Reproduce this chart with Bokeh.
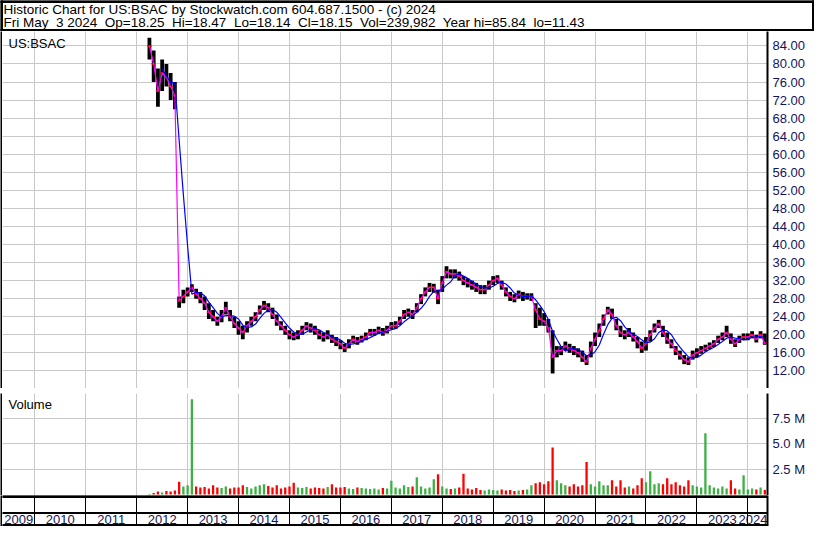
import pandas as pd
from bokeh.plotting import figure
from bokeh.layouts import column, row
from bokeh.models import (Range1d, FixedTicker, PrintfTickFormatter,
                          ColumnDataSource, Label)
from bokeh.core.properties import value
from bokeh.embed import file_html
from bokeh.resources import INLINE

FONT = "Liberation Sans"
NAVY = "#14145a"

# ---------------- texts ----------------
title_line = "Historic Chart for US:BSAC by Stockwatch.com 604.687.1500 - (c) 2024"
quote_line = "Fri May  3 2024  Op=18.25  Hi=18.47  Lo=18.14  Cl=18.15  Vol=239,982  Year hi=85.84  lo=11.43"
symbol = "US:BSAC"
volume_title = "Volume"

# ---------------- data (monthly, Apr 2012 .. May 2024) ----------------
start_year, start_month = 2012, 4

close = [
    84, 80, 74, 78, 77, 75, 73, 27.5, 28.5,                              # 2012
    29.5, 30.5, 29, 28, 27, 25, 24, 23, 24, 26, 24, 22.5,               # 2013
    21.5, 20.5, 22, 23, 24, 25.5, 26.5, 26, 24.5, 23, 22, 21,           # 2014
    20, 19.5, 20, 21, 22, 21.5, 21, 20, 19.5, 20, 19, 18.5,             # 2015
    18, 17, 18, 19, 18.5, 19, 19.5, 20.5, 20.5, 21, 20.5, 21,           # 2016
    22, 22, 23, 24.5, 25, 24.5, 26, 28, 29.5, 30.5, 30.5, 28,           # 2017
    31.5, 34, 33.5, 33.5, 33, 32, 31.5, 31, 30.5, 30, 30, 31,           # 2018
    32, 32.5, 31, 29.5, 28.5, 28, 29, 28.5, 28.5, 28.5, 25.5, 23.5,     # 2019
    23, 21.5, 15, 16.5, 16.5, 17.5, 17, 16.5, 16, 15, 14, 17,           # 2020
    19, 21, 23.5, 25.5, 24.5, 22, 20.5, 20, 20.5, 19.5, 18.5, 17,       # 2021
    18, 20, 21.5, 22.5, 20.5, 19, 18, 16.5, 15.5, 14.5, 14, 15.5,       # 2022
    16, 16.5, 17, 17.5, 18, 19, 19.5, 20.5, 19, 18, 19, 19.5,           # 2023
    19.5, 20, 19, 20, 18.15,                                             # 2024
]
high = [
    85.8, 83, 79, 81, 80, 78, 76, 28.5, 30,
    30.5, 31.2, 30.2, 29.5, 28.5, 27, 25.5, 24, 25.5, 27.3, 25.5, 24,
    23, 22, 23, 24, 25, 26.5, 27.5, 27, 26, 24.5, 23, 22,
    21, 20.5, 21, 22, 22.8, 22.5, 22, 21, 20.5, 21, 20, 19.5,
    18.8, 18, 19, 19.8, 19.5, 19.8, 20.5, 21.3, 21.3, 21.8, 21.5, 22,
    22.8, 23, 24, 25.5, 25.8, 25.5, 27, 29, 30.5, 31.5, 31.3, 30,
    33, 35.2, 34.5, 34.5, 34, 33, 32.5, 32, 31.5, 31, 31, 32,
    33, 33.2, 32, 30.5, 29.5, 29, 29.8, 29.5, 29.2, 29.2, 27, 26,
    24.8, 23.5, 21, 17.5, 17.5, 18.5, 18, 17.5, 17, 16.5, 15.5, 18.5,
    20.5, 22.5, 24.5, 26.2, 25.8, 23.5, 22, 21, 21.5, 20.5, 19.5, 18.5,
    19.5, 21, 22.5, 23.3, 22, 20.5, 19, 17.5, 16.5, 15.5, 15, 16.5,
    17, 17.5, 17.8, 18.3, 18.8, 19.8, 20.5, 22, 20.3, 19, 19.8, 20.3,
    20.3, 20.8, 20, 20.8, 20.3,
]
low = [
    81, 76, 70.5, 74, 75, 72, 70, 26, 27,
    28.5, 29.5, 28, 27, 25.5, 23.5, 23, 22, 22.8, 24.5, 23, 21.5,
    20, 19, 20.5, 22, 23, 24.5, 25.5, 25, 23.5, 22, 21, 20,
    19, 18.8, 19, 20, 21, 20.5, 20, 19, 18.5, 19, 18.2, 17.5,
    16.8, 16.2, 17, 18.2, 17.8, 18.3, 18.8, 19.8, 19.8, 20.2, 19.8, 20.3,
    21.2, 21.3, 22.2, 23.5, 24, 23.5, 25, 26.8, 28.5, 29.5, 29.3, 26.8,
    29.5, 32.5, 32.5, 32.5, 32, 31, 30.5, 30, 29.5, 29, 29, 30,
    31, 31.5, 30, 28.5, 27.5, 27.2, 28, 27.5, 27.8, 27.5, 21.5, 22,
    22, 20.5, 11.43, 15, 15.5, 16.5, 16, 15.5, 15, 14, 13.3, 15,
    17.5, 19.5, 22, 24.5, 23.5, 21, 19.5, 19, 19.5, 18.5, 17, 16,
    16.5, 18.5, 20.5, 21.5, 19.5, 18, 17, 15.5, 14.5, 13.5, 13.3, 14.5,
    15, 15.8, 16.3, 16.8, 17.3, 18.2, 18.8, 19.5, 18, 17.3, 18.2, 18.8,
    18.8, 19.2, 18.3, 19.2, 17.8,
]
volume_m = [
    0.05, 0.15, 0.3, 0.2, 0.35, 0.3, 0.4, 1.25, 0.8,
    0.9, 9.4, 0.8, 0.7, 0.75, 0.6, 0.9, 0.7, 0.65, 0.8, 0.6, 0.7,
    0.7, 0.9, 0.75, 0.6, 0.8, 0.9, 1.0, 0.85, 0.7, 0.9, 0.6, 0.7,
    0.8, 1.15, 0.7, 0.65, 0.75, 0.6, 0.7, 0.65, 0.6, 0.75, 1.0, 0.7,
    0.7, 0.75, 0.6, 0.55, 0.7, 0.65, 0.6, 0.55, 0.6, 0.5, 0.65, 0.6,
    1.35, 0.7, 0.6, 0.9, 0.75, 0.8, 1.7, 0.8, 0.6, 0.7, 1.5, 2.0,
    0.8, 0.6, 0.55, 0.6, 0.7, 2.05, 0.6, 0.5, 0.65, 0.45, 0.4, 0.5,
    0.45, 0.4, 0.5, 0.4, 0.45, 0.35, 0.4, 0.45, 0.5, 0.9, 1.1, 1.2,
    1.0, 1.3, 4.65, 1.4, 1.1, 0.9, 0.8, 1.0, 0.8, 0.9, 3.2, 1.0,
    0.8, 1.3, 0.9, 0.9, 1.4, 0.8, 1.4, 0.7, 0.8, 0.6, 0.9, 1.6,
    1.2, 2.3, 1.0, 1.1, 1.0, 1.6, 1.0, 1.2, 0.9, 0.8, 1.4, 0.9,
    0.8, 0.7, 6.05, 0.9, 0.7, 0.6, 0.8, 0.6, 1.4, 0.6, 0.5, 1.9,
    0.5, 0.6, 0.5, 0.7, 0.45,
]

year_labels = list(range(2009, 2025))
year_bounds = list(range(2010, 2025))
price_ticks = [12, 16, 20, 24, 28, 32, 36, 40, 44, 48, 52, 56, 60, 64, 68, 72, 76, 80, 84]
volume_ticks = [2.5, 5.0, 7.5]

X0, X1 = 2009.365, 2024.386
P_LO, P_HI = 8.1, 87.2
V_LO, V_HI = -0.1, 9.97

# ---------------- derived ----------------
x = [start_year + (start_month - 1 + i) / 12 for i in range(len(close))]
ma_long = pd.Series(close).rolling(4).mean().tolist()
vol_color = ["#3cb043" if i == 0 or close[i] >= close[i - 1] else "#ff0000"
             for i in range(len(close))]
src = ColumnDataSource(dict(x=x, close=close, high=high, low=low, ma=ma_long,
                            vol=volume_m, vcol=vol_color))

W = 814
FW = 765          # frame width of the three chart panels
RB = 47           # right axis area
xr = Range1d(X0, X1)
GRID = "#c8c8c8"


def solid(w, h, color):
    f = figure(width=w, height=h, output_backend="svg", toolbar_location=None,
               x_axis_location=None, y_axis_location=None, min_border=0,
               background_fill_color=color, border_fill_color=color,
               outline_line_color=None)
    f.grid.visible = False
    return f


def panel(fh, yr, ticks):
    f = figure(frame_width=FW, frame_height=fh, x_range=xr, y_range=yr,
               output_backend="svg", toolbar_location=None,
               x_axis_location=None, y_axis_location="right",
               min_border_left=0, min_border_right=RB,
               min_border_top=0, min_border_bottom=0,
               outline_line_color=None, background_fill_color="white",
               border_fill_color="white")
    ax = f.yaxis[0]
    ax.ticker = FixedTicker(ticks=ticks)
    ax.major_label_text_font = FONT
    ax.major_label_text_font_size = "13px"
    ax.major_label_text_color = NAVY
    ax.major_tick_out = 0
    ax.major_tick_in = 0
    ax.minor_tick_out = 0
    ax.minor_tick_in = 0
    ax.axis_line_color = "black"
    ax.axis_line_width = 2
    ax.major_label_standoff = 5
    return f


# ---------------- header ----------------
HH = 31
hdr = figure(width=W, height=HH, x_range=Range1d(0, W), y_range=Range1d(HH, 0),
             output_backend="svg", toolbar_location=None,
             x_axis_location=None, y_axis_location=None,
             min_border=0, outline_line_color=None,
             background_fill_color="white", border_fill_color="white")
hdr.grid.visible = False
# box frame of the header (decoration, in pixel units of this small canvas)
hdr.quad(left=[0, 0, 0, W - 2], right=[W, W, 2, W], top=[0, HH - 2, 0, 0],
         bottom=[2, HH, HH, HH], color="black")
hdr.add_layout(Label(x=3, y=9, text=title_line, text_font=FONT,
                     text_font_size="13.5px", text_color="black", text_baseline="middle"))
hdr.add_layout(Label(x=3, y=21.5, text=quote_line.replace("  ", "\u00a0 "), text_font=FONT,
                     text_font_size="13.5px", text_color="black", text_baseline="middle"))

# ---------------- price panel ----------------
PH = 357
p = panel(PH, Range1d(P_LO, P_HI), price_ticks)
p.yaxis[0].formatter = PrintfTickFormatter(format="%.2f")
p.xgrid.ticker = FixedTicker(ticks=year_bounds)
p.ygrid.ticker = FixedTicker(ticks=price_ticks)
p.grid.grid_line_color = GRID
p.segment(x0="x", y0="low", x1="x", y1="high", source=src, line_color="black", line_width=3.8)
p.scatter(x="x", y="close", source=src, marker="dash", size=4, line_color="#ff0000", line_width=1.6)
p.line(x="x", y="close", source=src, line_color="#ff00ff", line_width=1.2)
p.line(x="x", y="ma", source=src, line_color="#0000ff", line_width=1.2)
p.add_layout(Label(x=X0, y=P_HI, x_offset=6, y_offset=-4, text=symbol, text_font=FONT,
                   text_font_size="13px", text_color="black", text_baseline="top"))

# ---------------- volume panel ----------------
VH = 102
v = panel(VH, Range1d(V_LO, V_HI), volume_ticks)
v.yaxis[0].formatter = PrintfTickFormatter(format="%.1f M")
v.xgrid.ticker = FixedTicker(ticks=year_bounds)
v.ygrid.ticker = FixedTicker(ticks=volume_ticks)
v.grid.grid_line_color = GRID
v.vbar(x="x", top="vol", bottom=0, width=0.045, source=src, fill_color="vcol", line_color=None)
v.add_layout(Label(x=X0, y=V_HI, x_offset=6, y_offset=-3, text=volume_title, text_font=FONT,
                   text_font_size="13px", text_color="black", text_baseline="top"))

# ---------------- year axis rows ----------------
YH = 31
yf = panel(YH, Range1d(YH, 0), [])
yf.yaxis[0].major_label_text_font_size = "0px"
yf.xgrid.ticker = FixedTicker(ticks=year_bounds)
yf.xgrid.grid_line_color = "black"
yf.ygrid.visible = False
yf.hbar(y=[1, 17.5, 30], height=[2, 1, 2], left=X0, right=X1, color="black")
n_lab = len(year_labels)
lab_x = [(max(yv, X0) + min(yv + 1, X1)) / 2 for yv in year_labels]
lab_x[-1] = X1
lab_align = ["center"] * (n_lab - 1) + ["right"]
lab_src = ColumnDataSource(dict(x=lab_x, y=[24] * n_lab, t=[str(yv) for yv in year_labels],
                                a=lab_align))
yf.text(x="x", y="y", text="t", text_align="a", source=lab_src,
        text_font=value(FONT), text_font_size="13px", text_color=NAVY,
        text_baseline="middle")

layout = column(
    hdr,
    row(solid(2, PH, "black"), p, spacing=0),
    solid(W, 2, "black"), solid(W, 1, "white"), solid(W, 2, "black"),
    row(solid(2, VH, "black"), v, spacing=0),
    row(solid(2, YH, "black"), yf, spacing=0),
    spacing=0,
)
open("out.html", "w").write(file_html(layout, INLINE))
